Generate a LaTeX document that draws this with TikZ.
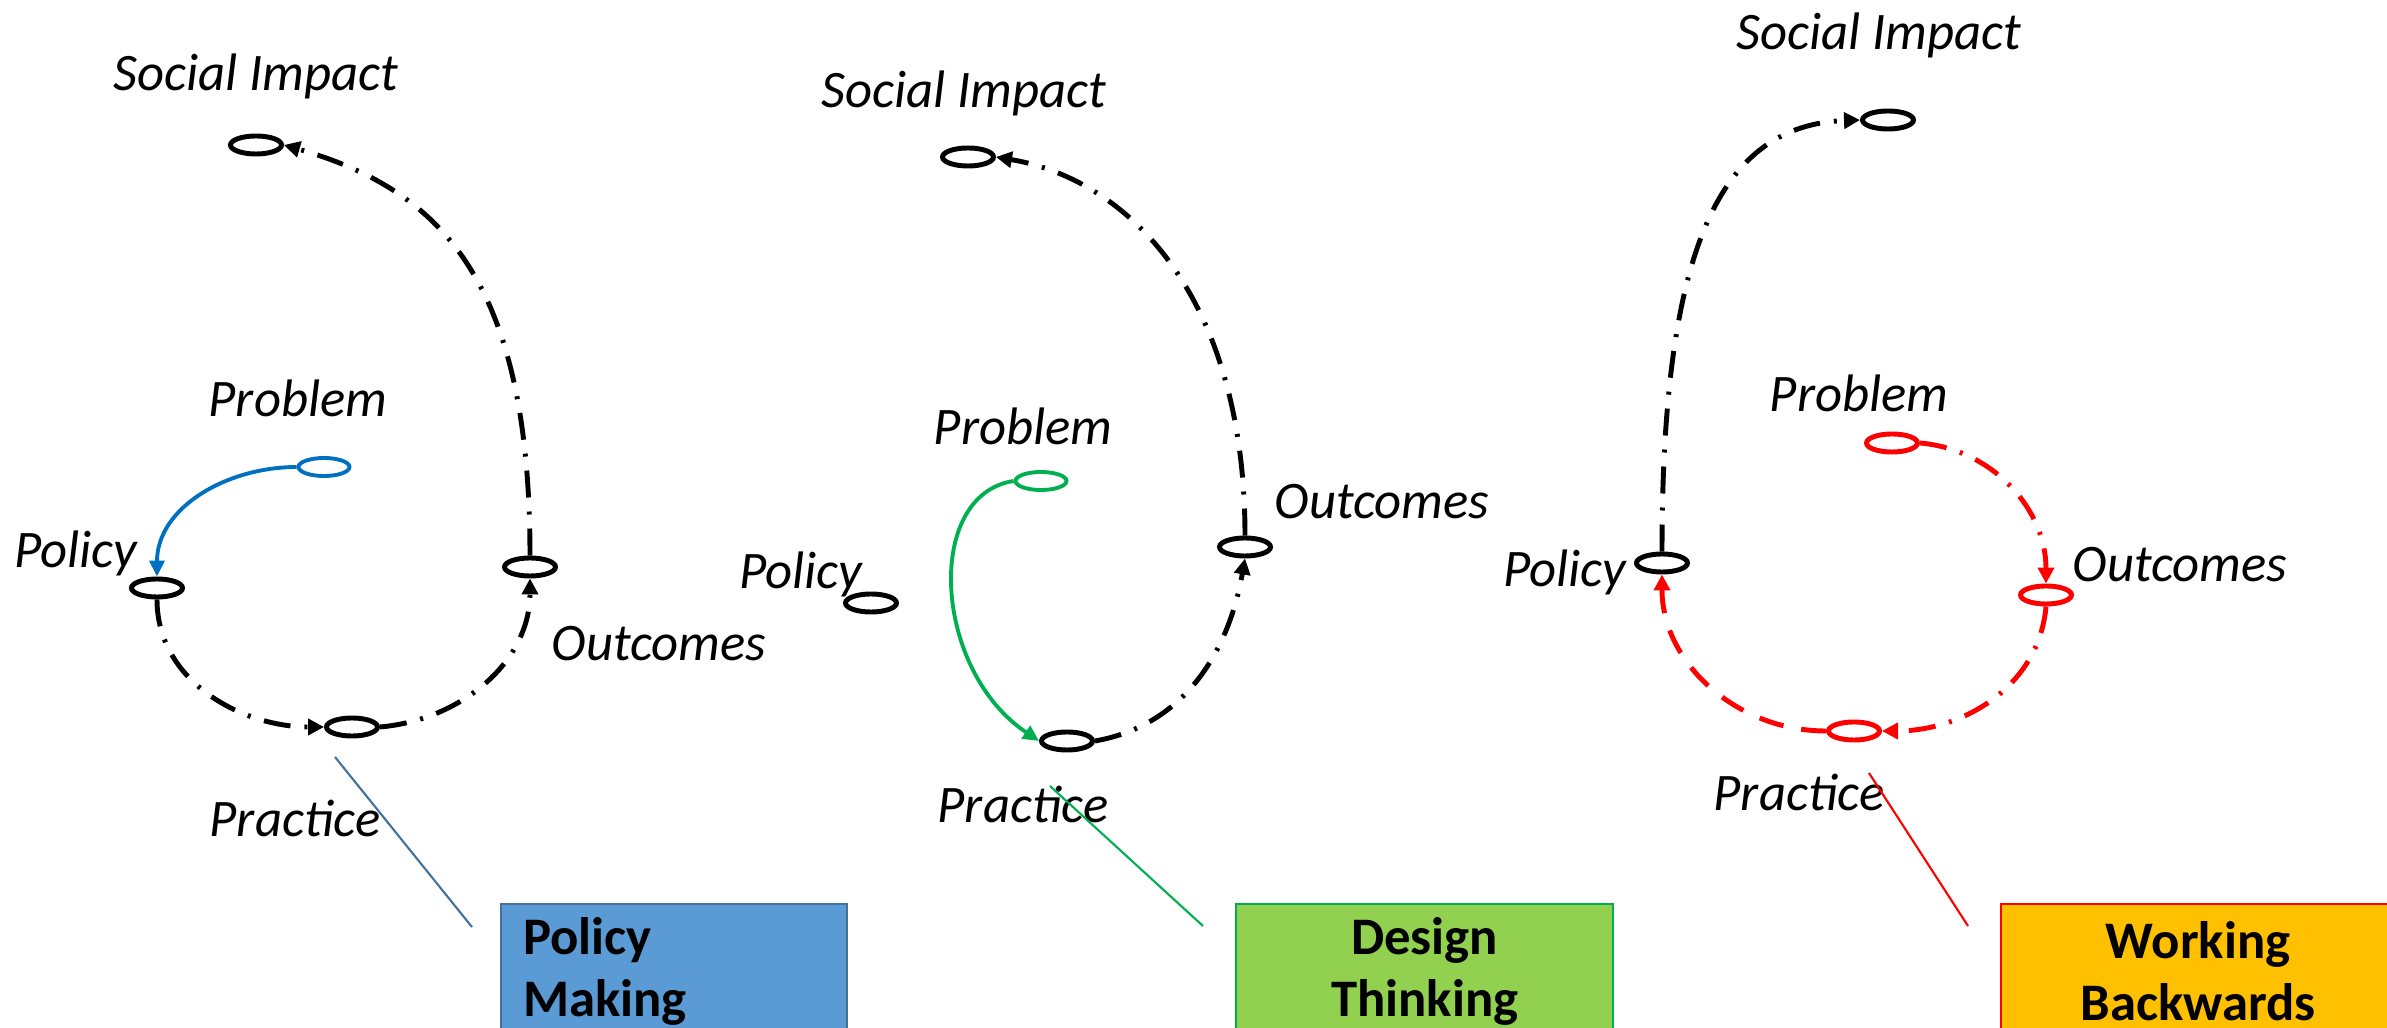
\documentclass[tikz,border=0pt]{standalone}
\usepackage{fontspec}
\setmainfont{Carlito}
\usepackage{xcolor}
\usetikzlibrary{shapes, arrows.meta, positioning}

\definecolor{pmblue}{HTML}{0070C0}
\definecolor{pmfill}{HTML}{5B9BD5}
\definecolor{pmedge}{HTML}{41719C}
\definecolor{dtgreen}{HTML}{00B050}
\definecolor{dtfill}{HTML}{92D050}
\definecolor{wbred}{HTML}{FF0000}
\definecolor{wbfill}{HTML}{FFC000}

\tikzset{
  stage/.style={draw, ellipse, line width=1.4pt, inner sep=0pt, minimum width=0.51cm, minimum height=0.18cm},
  lbl/.style={font=\fontsize{15}{18}\selectfont\itshape},
  flow/.style={line width=1.4pt, dash pattern=on 0.27cm off 0.14cm on 0.03cm off 0.14cm, -{Triangle[length=0.16cm,width=0.16cm]}},
  dashflow/.style={line width=1.4pt, dash pattern=on 0.25cm off 0.18cm, -{Triangle[length=0.16cm,width=0.16cm]}},
  solidflow/.style={line width=1.1pt, -{Triangle[length=0.16cm,width=0.15cm]}},
  callbox/.style={draw, line width=0.6pt, anchor=north west, minimum height=1.34cm, inner xsep=0.22cm, inner ysep=0.05cm, font=\fontsize{15}{17.6}\selectfont\bfseries},
  pointer/.style={line width=0.6pt}
}

\begin{document}
\begin{tikzpicture}[x=0.01cm, y=-0.01cm]
        \useasboundingbox (0,0) rectangle (2387,1028);
        % Policy Making
        \node[lbl] (tsi1) at (256,76) {Social Impact};
        \node[lbl] (tprob1) at (298,398) {Problem};
        \node[lbl] (tpol1) at (76,553) {Policy};
        \node[lbl] (tout1) at (659,644) {Outcomes};
        \node[lbl] (tprac1) at (295,818) {Practice};
        \node[stage] (si1) at (256,145) {};
        \node[stage, draw=pmblue, line width=1.1pt] (prob1) at (324,467) {};
        \node[stage] (pol1) at (157,588) {};
        \node[stage] (out1) at (530,567) {};
        \node[stage] (prac1) at (352,727) {};
        \draw[solidflow, pmblue] (prob1.west) to[out=180, in=90] (pol1.north);
        \draw[flow] (pol1.south) to[out=-90, in=180] (prac1.west);
        \draw[flow] (prac1.east) to[out=5, in=-90] (out1.south);
        \draw[flow] (out1.north) .. controls +(0,-275) and +(157,45) .. (si1.east);
        \node[callbox, fill=pmfill, draw=pmedge, minimum width=3.46cm, text width=3.02cm, align=left] (pm) at (500,903) {Policy\\Making};
        \coordinate (p1a) at (335,757);
        \coordinate (p1b) at (472,927);
        \draw[pointer, pmedge] (p1a) -- (p1b);
        % Design Thinking
        \node[lbl] (tsi2) at (964,93) {Social Impact};
        \node[lbl] (tprob2) at (1023,426) {Problem};
        \node[lbl] (tpol2) at (801,574) {Policy};
        \node[lbl] (tout2) at (1382,502) {Outcomes};
        \node[lbl] (tprac2) at (1023,804) {Practice};
        \node[stage] (si2) at (968,157) {};
        \node[stage, draw=dtgreen, line width=1.1pt] (prob2) at (1041,481) {};
        \node[stage] (pol2) at (871,603) {};
        \node[stage] (out2) at (1245,547) {};
        \node[stage] (prac2) at (1067,741) {};
        \draw[solidflow, dtgreen] (prob2.west) .. controls +(-90,14) and +(-106,-71) .. (prac2.west);
        \draw[flow] (prac2.east) to[out=10, in=-100] (out2.south);
        \draw[flow] (out2.north) .. controls +(0,-236) and +(135,23) .. (si2.east);
        \node[callbox, fill=dtfill, draw=dtgreen, minimum width=3.77cm, text width=3.33cm, align=center] (dt) at (1235,903) {Design\\Thinking};
        \coordinate (p2a) at (1050,786);
        \coordinate (p2b) at (1203,926);
        \draw[pointer, dtgreen] (p2a) -- (p2b);
        % Working Backwards
        \node[lbl] (tsi3) at (1879,35) {Social Impact};
        \node[lbl] (tprob3) at (1859,393) {Problem};
        \node[lbl] (tpol3) at (1565,572) {Policy};
        \node[lbl] (tout3) at (2180,565) {Outcomes};
        \node[lbl] (tprac3) at (1799,792) {Practice};
        \node[stage] (si3) at (1888,120) {};
        \node[stage, draw=wbred] (prob3) at (1892,443) {};
        \node[stage] (pol3) at (1662,563) {};
        \node[stage, draw=wbred] (out3) at (2046,595) {};
        \node[stage, draw=wbred] (prac3) at (1854,731) {};
        \draw[flow] (pol3.north) .. controls +(0,-302) and +(-141,5) .. (si3.west);
        \draw[flow, wbred] (prob3.east) to[out=-5, in=90] (out3.north);
        \draw[flow, wbred] (out3.south) to[out=-95, in=0] (prac3.east);
        \draw[dashflow, wbred] (prac3.west) to[out=180, in=-90] (pol3.south);
        \node[callbox, fill=wbfill, draw=wbred, minimum width=3.94cm, text width=3.50cm, align=center] (wb) at (2000,903) {Working\\Backwards};
        \coordinate (p3a) at (1869,773);
        \coordinate (p3b) at (1968,926);
        \draw[pointer, wbred] (p3a) -- (p3b);
\end{tikzpicture}
\end{document}
